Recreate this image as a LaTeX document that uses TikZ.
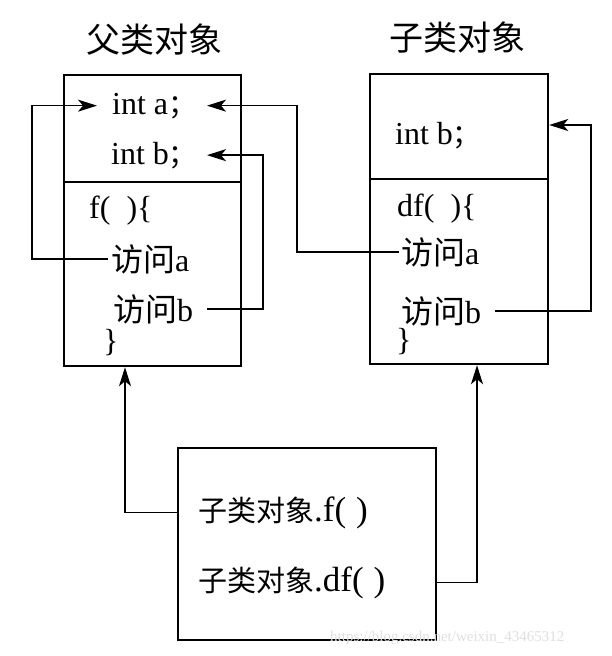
\documentclass[tikz,border=0pt]{standalone}
\usepackage{fontspec}
\setmainfont{Liberation Serif}
\newfontfamily\cjk{Noto Sans CJK SC}
\usetikzlibrary{arrows.meta}
\begin{document}
\begin{tikzpicture}[x=1pt,y=-1pt,
  box/.style={draw,line width=2.2pt,inner sep=0pt,anchor=north west},
  txt/.style={anchor=base west,inner sep=0pt,font=\fontsize{32}{34}\selectfont},
  btxt/.style={anchor=base west,inner sep=0pt,font=\fontsize{35}{37}\selectfont},
  ttl/.style={inner sep=0pt,font=\cjk\fontsize{34}{36}\selectfont},
  conn/.style={line width=1.5pt,-{Stealth[length=19pt,width=12pt,inset=5pt]}},
  divider/.style={line width=2.2pt}]
\useasboundingbox (0,0) rectangle (612,656);
% boxes
\node[box,minimum width=177pt,minimum height=291pt] (L) at (63,74) {};
\node[box,minimum width=178pt,minimum height=290pt] (R) at (369,73) {};
\node[box,minimum width=258pt,minimum height=192pt] (B) at (177,447) {};
\coordinate (yLd) at (0,182);
\coordinate (yRd) at (0,179);
\draw[divider] (L.west |- yLd) -- (L.east |- yLd);
\draw[divider] (R.west |- yRd) -- (R.east |- yRd);
% titles
\node[ttl] (tL) at (154,40) {父类对象};
\node[ttl] (tR) at (457,38) {子类对象};
% left box text
\node[txt] (ia) at (112,114) {int a{\cjk\fontsize{28}{30}\selectfont ；}};
\node[txt] (ib) at (111,164) {int b{\cjk\fontsize{28}{30}\selectfont ；}};
\node[txt] (lf) at (89,218) {f(\,\,\,)\{};
\node[txt] (la) at (111,271) {{\cjk 访问}a};
\node[txt] (lb) at (113,321) {{\cjk 访问}b};
\node[txt] (lc) at (103,351) {\}};
% right box text
\node[txt] (rb) at (395,144) {int b{\cjk\fontsize{28}{30}\selectfont ；}};
\node[txt] (rf) at (397,216) {df(\,\,\,)\{};
\node[txt] (ra) at (401,264) {{\cjk 访问}a};
\node[txt] (rbb) at (401,323) {{\cjk 访问}b};
\node[txt] (rc) at (396,350) {\}};
% bottom box text
\node[btxt] (c1) at (198,521) {{\cjk\fontsize{29}{31}\selectfont 子类对象}.f(\hspace{10pt})};
\node[btxt] (c2) at (198,591) {{\cjk\fontsize{29}{31}\selectfont 子类对象}.df(\hspace{10pt})};
% guides
\coordinate (xL) at (32,0);
\coordinate (xT1) at (97,0);
\coordinate (xT) at (207,0);
\coordinate (xA) at (297,0);
\coordinate (xB) at (263,0);
\coordinate (xR) at (591,0);
\coordinate (yR) at (0,125);
\coordinate (xL2) at (125,0);
\coordinate (xR2) at (477,0);
% connectors
\draw[conn] ([xshift=-3pt]la.west) -- (la.west -| xL) |- (ia.west -| xT1);
\draw[conn] ([xshift=-2pt]ra.west) -- (ra.west -| xA) |- (ia.west -| xT);
\draw[conn] ([xshift=14pt]lb.east) -- (lb.east -| xB) |- (ib.west -| xT);
\draw[conn] ([xshift=14pt]rbb.east) -- (rbb.east -| xR) |- (R.east |- yR);
\draw[conn] (c1.west -| B.west) -- (c1.west -| xL2) -- (L.south -| xL2);
\draw[conn] (c2.east -| B.east) -- (c2.east -| xR2) -- (R.south -| xR2);
% watermark
\node[anchor=base west,inner sep=0pt,text=gray!25,font=\fontsize{15}{16}\selectfont] (wm) at (330,641) {https://blog.csdn.net/weixin\_43465312};
\end{tikzpicture}
\end{document}
